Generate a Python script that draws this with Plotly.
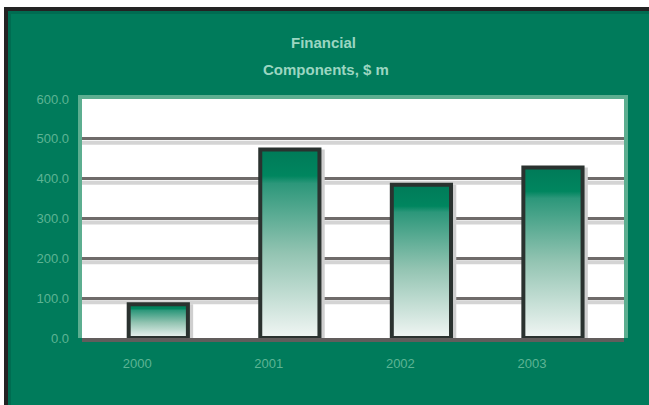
import plotly.graph_objects as go

# ---- data ----
years = ["2000", "2001", "2002", "2003"]
values = [85, 473, 385, 428]
y_ticks = [0, 100, 200, 300, 400, 500, 600]
y_ticktext = ["0.0", "100.0", "200.0", "300.0", "400.0", "500.0", "600.0"]
title_lines = ["Financial", "Components, $ m"]

# ---- layout constants (pixels) ----
W, H = 649, 405
L, R, T, B = 82, 624, 99, 338
GREEN = "#007b5b"
TXT = "#5db494"
BAR_W = 0.45
SHADOW_DX = 0.04
LABEL_SHIFT = -0.16
X_RANGE = [-0.58, 3.54]


def xp(px):
    return (px - L) / (R - L)


def yp(py):
    return (B - py) / (B - T)


def rect(x0, y0, x1, y1, color, layer="above"):
    return dict(type="rect", xref="paper", yref="paper",
                x0=xp(x0), x1=xp(x1), y0=yp(y0), y1=yp(y1),
                fillcolor=color, line=dict(width=0), layer=layer)


fig = go.Figure()
idx = list(range(len(years)))

# shadows
for i, v in zip(idx, values):
    x0, x1 = i - BAR_W / 2 + SHADOW_DX, i + BAR_W / 2 + SHADOW_DX
    fig.add_trace(go.Scatter(
        x=[x0, x1, x1, x0, x0], y=[0, 0, v, v, 0], fill="toself",
        fillcolor="#cfcfcf", mode="lines",
        line=dict(width=0, color="rgba(0,0,0,0)"),
        hoverinfo="skip", showlegend=False))

# gradient bars
for i, v in zip(idx, values):
    x0, x1 = i - BAR_W / 2, i + BAR_W / 2
    fig.add_trace(go.Scatter(
        x=[x0, x1, x1, x0, x0], y=[0, 0, v, v, 0], fill="toself",
        fillgradient=dict(type="vertical", colorscale=[
            [0.0, "#f1f6f4"], [0.45, "#93c4b2"], [0.82, "#2c977a"],
            [0.86, "#00865f"], [1.0, "#007a58"]]),
        mode="lines", line=dict(width=4, color="#2a322f"),
        hoverinfo="skip", showlegend=False))

shapes = [
    rect(0, 0, W, 7, "white"),
    rect(0, 0, 4, H, "white"),
    rect(4, 7, W, 11, "#232323"),
    rect(4, 7, 8, H, "#232323"),
    rect(8, 11, W, 14, "#006c51"),
    rect(8, 11, 11, H, "#006c51"),
    dict(type="path", xref="paper", yref="paper",
         path=f"M {xp(80)},{yp(B)} L {xp(80)},{yp(97)} L {xp(626)},{yp(97)} L {xp(626)},{yp(B)}",
         line=dict(color="#5cae90", width=4), layer="above"),
]
for t in y_ticks[1:-1]:
    shapes.append(dict(type="rect", xref="paper", yref="y", ysizemode="pixel",
                       yanchor=t, y0=-2, y1=-6, x0=0, x1=1,
                       fillcolor="#d4d4d4", line=dict(width=0), layer="below"))

annotations = [
    dict(text=f"<b>{title_lines[0]}</b>", x=xp(323), y=yp(42), xref="paper", yref="paper",
         xanchor="center", yanchor="middle",
         showarrow=False, font=dict(size=15, color="#9bd6c1", family="Arial")),
    dict(text=f"<b>{title_lines[1]}</b>", x=xp(326), y=yp(70), xref="paper", yref="paper",
         xanchor="center", yanchor="middle",
         showarrow=False, font=dict(size=15, color="#9bd6c1", family="Arial")),
]

fig.update_layout(
    width=W, height=H,
    margin=dict(l=L, r=W - R, t=T, b=H - B, pad=0),
    paper_bgcolor=GREEN, plot_bgcolor="white",
    shapes=shapes, annotations=annotations, showlegend=False,
    font=dict(family="Arial", size=13, color=TXT),
)
fig.update_xaxes(
    range=X_RANGE, tickvals=[i + LABEL_SHIFT for i in idx], ticktext=years,
    showgrid=False, zeroline=False, showline=True, linecolor="#615d5c",
    linewidth=4, ticks="", ticklabelstandoff=10,
    tickfont=dict(size=13, color=TXT, family="Arial"),
)
fig.update_yaxes(
    range=[0, 600], tickvals=y_ticks, ticktext=y_ticktext,
    showgrid=True, gridcolor="#6f6b6a", gridwidth=3, zeroline=False,
    showline=False, ticks="", ticklabelstandoff=12,
    tickfont=dict(size=13, color=TXT, family="Arial"),
)

fig.write_html("out.html")
